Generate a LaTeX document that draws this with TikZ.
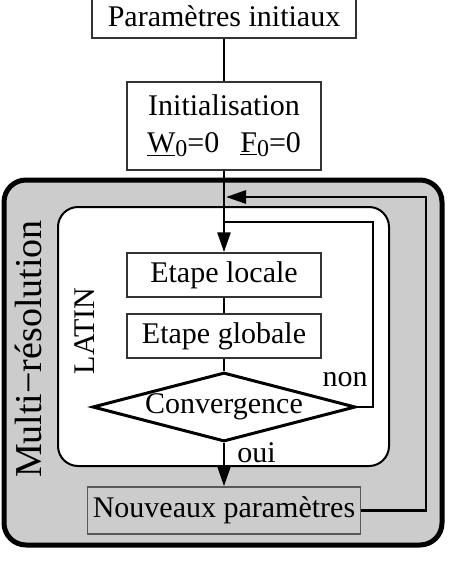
\documentclass[tikz,border=0pt]{standalone}
\usepackage{fontspec}
\setmainfont{Liberation Serif}
\usetikzlibrary{positioning,shapes.geometric,arrows.meta}
\newcommand{\indzero}{\raisebox{-0.28ex}{\fontsize{24}{24}\selectfont 0}}

\begin{document}
\begin{tikzpicture}[x=1pt,y=-1pt,node distance=10pt,on grid,>={Triangle[length=20pt,width=13pt]},
		box/.style={rectangle,draw=black!80,line width=1.5pt,fill=white,minimum width=194pt,minimum height=44pt,inner sep=0pt,font=\fontsize{30}{37}\selectfont},
		test/.style={diamond,draw=black,line width=3pt,fill=white,aspect=3.8,inner sep=0pt,minimum width=263pt,minimum height=69pt,font=\fontsize{30}{37}\selectfont},
		link/.style={line width=2.8pt},
		lbl/.style={inner sep=2pt,font=\fontsize{30}{37}\selectfont}]
		\useasboundingbox (0,0) rectangle (448,564);
		% cadres
		\draw[line width=5pt,fill=black!20,rounded corners=22pt] (4,180) rectangle (442,545);
		\draw[line width=2pt,fill=white,rounded corners=20pt] (58,207) rectangle (389,466);
		\node[lbl,rotate=90,font=\fontsize{38}{44}\selectfont] (multi) at (28,349) {Multi−résolution};
		\node[lbl,rotate=90] (latin) at (85,331) {LATIN};
		% boites
		\node[box,minimum width=264pt] (param) at (224,16) {Paramètres initiaux};
		\node[box,minimum height=88pt,align=center] (init) [below=110pt of param] {Initialisation\\ \underline{W}\indzero=0\hspace{0.7em}\underline{F}\indzero=0};
		\node[box] (locale) [below=149pt of init] {Etape locale};
		\node[box] (globale) [below=61pt of locale] {Etape globale};
		\node[test] (conv) [below=71pt of globale] {Convergence};
		\node[box,fill=black!20,draw=black!65,minimum width=273pt,minimum height=47pt] (nouv) [below=103.5pt of conv] {Nouveaux paramètres};
		
		\coordinate (fbin) at (226,197);
		\coordinate (fbcorner) at (426,197);
		\coordinate (nonin) at (224,222);
		\coordinate (noncorner) at (373,222);
		
		\draw[link] (param) -- (init);
		\draw[link,->] (init) -- (locale);
		\draw[link] (locale) -- (globale);
		\draw[link] (globale) -- (conv);
		\draw[link,->] (conv) -- node[lbl,right,pos=0.22,xshift=10pt] {oui} (nouv);
		\draw[link] (conv.east) -| node[lbl,pos=0.5,anchor=south east,xshift=-2pt,yshift=17pt] {non} (noncorner) -- (nonin);
		\draw[link,->] (nouv.east) -| (fbcorner) -- (fbin);
		\end{tikzpicture}
\end{document}
